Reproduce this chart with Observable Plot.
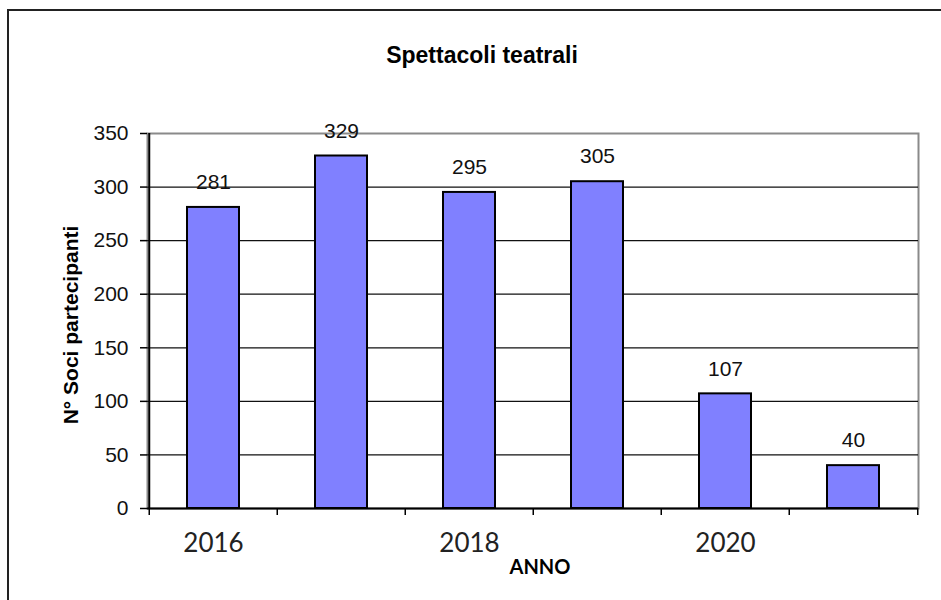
<!DOCTYPE html>
<html>
<head>
<meta charset="utf-8">
<script src="https://cdn.jsdelivr.net/npm/d3@7"></script>
<script src="https://cdn.jsdelivr.net/npm/@observablehq/plot@0.6"></script>
<style>
  html, body { margin: 0; padding: 0; background: #fff; overflow: hidden; }
  #wrap { position: relative; width: 941px; height: 600px; }
  #outer { position: absolute; left: 7px; top: 9px; width: 1000px; height: 700px;
           border: 2px solid #222; pointer-events: none; }
  #chart svg { background: transparent; }
</style>
</head>
<body>
<div id="wrap"><div id="chart"></div><div id="outer"></div></div>
<script>
const years = [2016, 2017, 2018, 2019, 2020, 2021];
const values = [281, 329, 295, 305, 107, 40];
const yTicks = [0, 50, 100, 150, 200, 250, 300, 350];
const xLabelYears = [2016, 2018, 2020];
const title = "Spettacoli teatrali";
const xTitle = "ANNO";
const yTitle = "N° Soci partecipanti";

const data = years.map((year, i) => ({year, value: values[i]}));

const W = 941, H = 600, mL = 147, mR = 23, mT = 133, mB = 92;
const step = (W - mL - mR) / years.length;
const arial = "'Liberation Sans', Arial, sans-serif";

const chart = Plot.plot({
  width: W, height: H,
  marginLeft: mL, marginRight: mR, marginTop: mT, marginBottom: mB,
  style: {background: "transparent"},
  x: {type: "band", domain: years, paddingInner: 0.595, paddingOuter: 0.2975},
  y: {domain: [0, 350]},
  marks: [
    Plot.frame({stroke: "#8a8a8a", strokeWidth: 2}),
    Plot.gridY({ticks: yTicks.filter(v => v > 0 && v < 350), stroke: "#111", strokeOpacity: 1, strokeWidth: 1.2}),
    Plot.barY(data, {x: "year", y: "value", fill: "#8080ff", stroke: "#000", strokeWidth: 2}),
    Plot.text(data, {x: "year", y: "value", text: d => String(d.value), dy: -25,
      fontSize: 21, fontFamily: arial, fill: "#111"}),
    Plot.ruleY([0], {stroke: "#000", strokeWidth: 2}),
    Plot.ruleX([years[0]], {dx: -step / 2, stroke: "#000", strokeWidth: 2}),
    Plot.axisY({ticks: yTicks, tickSize: 7, tickPadding: 12, label: null,
      fontSize: 21, fontFamily: arial, stroke: "#000", strokeWidth: 1.5, fill: "#111"}),
    Plot.axisX({ticks: years, tickSize: 7, tickFormat: () => "", label: null,
      dx: -step / 2, stroke: "#000", strokeWidth: 1.5}),
    Plot.axisX({ticks: [years[years.length - 1]], tickSize: 7, tickFormat: () => "", label: null,
      dx: step / 2, stroke: "#000", strokeWidth: 1.5}),
    Plot.axisX({ticks: xLabelYears, tickSize: 0, tickPadding: 25, label: null,
      tickFormat: d => String(d), fontSize: 26, fontFamily: "Lato, 'Open Sans', sans-serif", fill: "#222"}),
    Plot.text([title], {frameAnchor: "top", dy: -78, dx: -51, fontSize: 23, fontWeight: "bold",
      fontFamily: arial, fill: "#000", lineAnchor: "middle"}),
    Plot.text([xTitle], {frameAnchor: "bottom", dy: 59, dx: 7, fontSize: 20, fontWeight: "bold",
      fontFamily: "Lato, 'Open Sans', sans-serif", fill: "#000", lineAnchor: "middle"}),
    Plot.text([yTitle], {frameAnchor: "left", textAnchor: "middle", dx: -76, dy: 4, rotate: -90,
      fontSize: 21, fontWeight: "bold", fontFamily: arial, fill: "#000", lineAnchor: "middle"})
  ]
});
document.getElementById("chart").appendChild(chart);
</script>
</body>
</html>
